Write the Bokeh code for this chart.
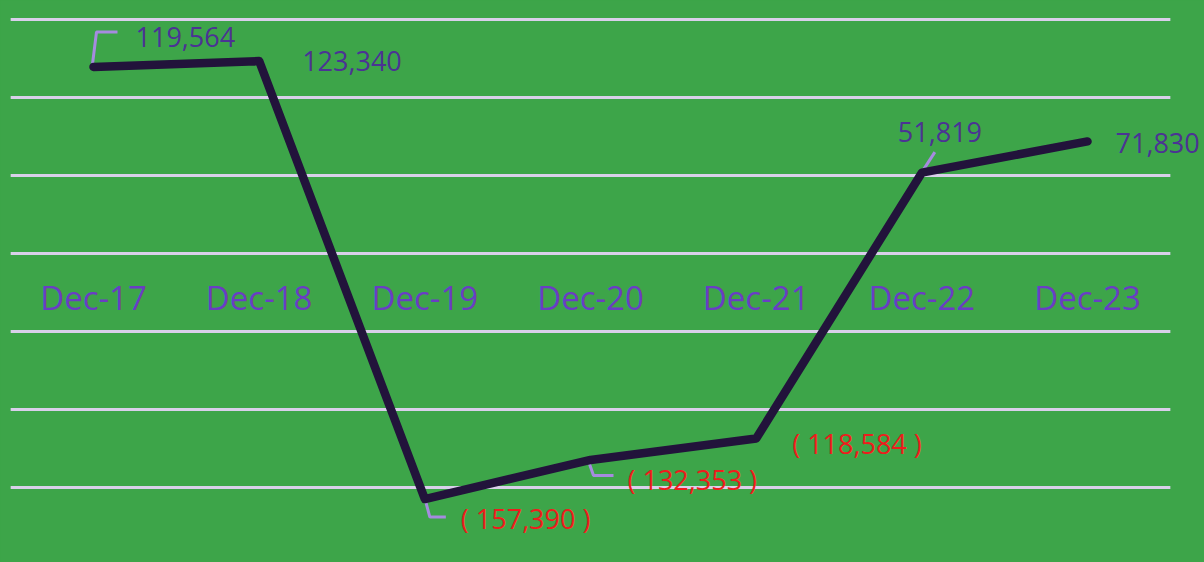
from bokeh.plotting import figure
from bokeh.models import Range1d
from bokeh.core.properties import value
from bokeh.embed import file_html
from bokeh.resources import INLINE

# ---- data ----
categories = ["Dec-17", "Dec-18", "Dec-19", "Dec-20", "Dec-21", "Dec-22", "Dec-23"]
values = [119564, 123340, -157390, -132353, -118584, 51819, 71830]
grid_values = [150000, 100000, 50000, 0, -50000, -100000, -150000]

# ---- styling / layout ----
GREEN = "#3da549"
LINE = "#22133b"
GRID = "#d9d0ea"
LEADER = "#a68be0"
POS_TXT = "#4b3394"
NEG_TXT = "#ee1c1c"
CAT_TXT = "#6a3dc4"
FONT = "Open Sans"

W, H = 1204, 562
PX_X = 165.67          # px per category
PX_Y = 0.00156         # px per unit
X0_PX = 93             # frame px of first category
ZERO_PX = 253          # frame px (from top) of zero
x_start = -X0_PX / PX_X
x_end = x_start + W / PX_X
y_end = ZERO_PX / PX_Y
y_start = -(H - ZERO_PX) / PX_Y

# label pixel offsets (left/baseline relative to point)
label_offsets = [(42, -30), (43, 0), (36, 19), (37, 20), (36, 5), (-24, -41), (28, 2)]
# leader paths in pixel offsets (screen, y down) per point index
leaders = {
    0: [(-1, -3), (3, -35), (24, -35)],
    5: [(1, -2), (13, -20.5)],
    2: [(1, 3), (5, 18), (21, 18)],
    3: [(-1, 4), (3, 15.5), (23, 15.5)],
}

xs = list(range(len(categories)))

p = figure(width=W, height=H, x_range=Range1d(x_start, x_end), y_range=Range1d(y_start, y_end),
           output_backend="svg", toolbar_location=None, min_border=0,
           x_axis_location=None, y_axis_location=None,
           background_fill_color=GREEN, border_fill_color=GREEN, outline_line_color=None)
p.grid.visible = False

# gridlines
p.segment(x0=[-0.5] * len(grid_values), x1=[6.5] * len(grid_values), y0=grid_values, y1=grid_values,
          line_color=GRID, line_width=3)

# category labels
p.text(x=xs, y=[0] * len(xs), text=categories, text_align="center", text_baseline="middle",
       y_offset=44, text_color=CAT_TXT, text_font=value(FONT), text_font_size="33px")

# leaders
lx, ly = [], []
for i, pts in leaders.items():
    lx.append([xs[i] + dx / PX_X for dx, dy in pts])
    ly.append([values[i] - dy / PX_Y for dx, dy in pts])
p.multi_line(xs=lx, ys=ly, line_color=LEADER, line_width=3)

# main line
p.line(xs, values, line_color=LINE, line_width=8.5, line_join="round", line_cap="round")

# value labels
def fmt(v):
    return f"{v:,}" if v >= 0 else f"( {abs(v):,} )"

for i, v in enumerate(values):
    ox, oy = label_offsets[i]
    p.text(x=[xs[i]], y=[v], text=[fmt(v)], x_offset=ox, y_offset=oy,
           text_align="left", text_baseline="alphabetic",
           text_color=POS_TXT if v >= 0 else NEG_TXT,
           text_font=value(FONT), text_font_size="27px")

html = file_html(p, INLINE)
html = html.replace("</head>", "<style>html,body{background:%s;}</style></head>" % GREEN, 1)
open("out.html", "w").write(html)
